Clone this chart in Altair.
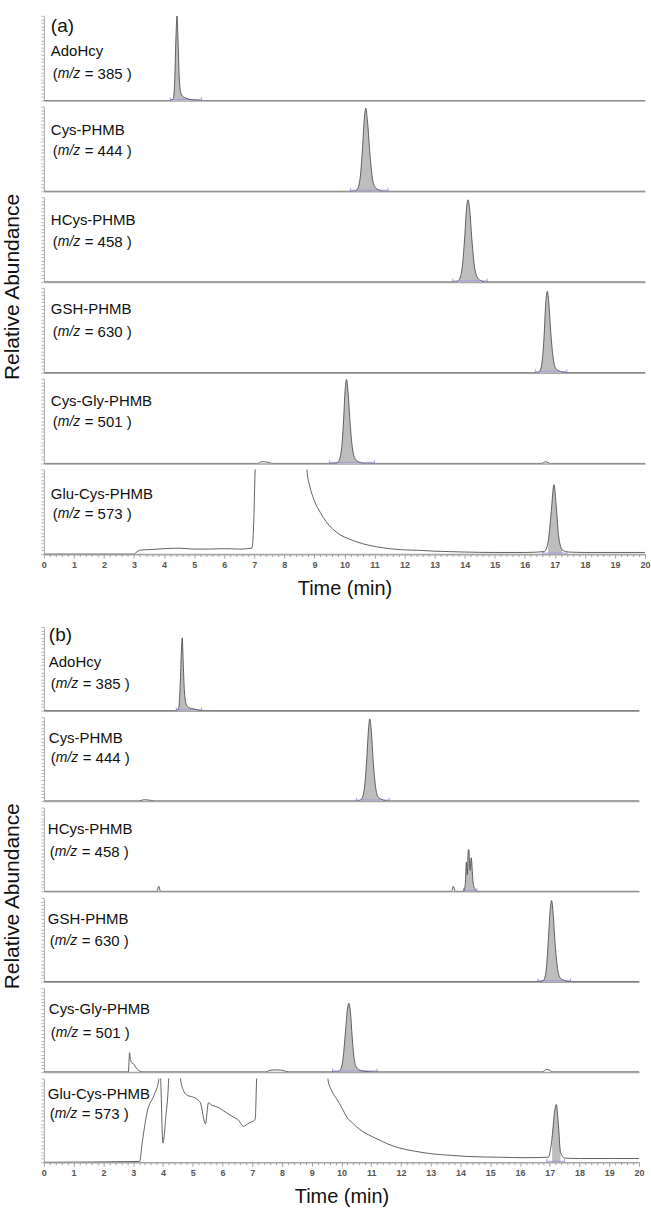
import altair as alt
import pandas as pd

FONT = "Liberation Sans"
LINE_C = "#4f4f4f"
FILL_C = "#bdbdbd"
BASE_C = "#aaa4a0"
AXIS_C = "#a8a8a8"
BLUE_C = "#9a9ae6"

NAMES = ["AdoHcy", "Cys-PHMB", "HCys-PHMB", "GSH-PHMB", "Cys-Gly-PHMB", "Glu-Cys-PHMB"]
MZ = ["385", "444", "458", "630", "501", "573"]
PANEL_TAGS = ["(a)", "(b)"]

XTICKS = [round(i * 0.2, 1) for i in range(101)]
YTICKS = [round(i / 24, 4) for i in range(25)]

# ---------------- panel (a) ----------------
A_ADOHCY_T = [0, 4.20, 4.30, 4.35, 4.39, 4.43, 4.46, 4.50, 4.55, 4.62, 4.72, 4.90, 5.25, 20]
A_ADOHCY_V = [0, 0, 0.02, 0.20, 0.70, 1.00, 0.75, 0.30, 0.10, 0.05, 0.03, 0.01, 0, 0]

A_CYS_T = [0, 10.30, 10.42, 10.52, 10.60, 10.66, 10.71, 10.76, 10.84, 10.92, 11.00, 11.12, 11.30, 20]
A_CYS_V = [0, 0, 0.02, 0.15, 0.50, 0.85, 0.98, 0.85, 0.48, 0.18, 0.06, 0.02, 0, 0]

A_HCYS_T = [0, 13.70, 13.82, 13.92, 14.00, 14.06, 14.11, 14.16, 14.24, 14.32, 14.40, 14.52, 14.70, 20]
A_HCYS_V = [0, 0, 0.03, 0.18, 0.52, 0.86, 0.97, 0.88, 0.50, 0.20, 0.07, 0.02, 0, 0]

A_GSH_T = [0, 16.40, 16.50, 16.58, 16.65, 16.70, 16.75, 16.80, 16.87, 16.95, 17.03, 17.15, 17.35, 20]
A_GSH_V = [0, 0, 0.02, 0.14, 0.48, 0.84, 0.96, 0.82, 0.45, 0.16, 0.05, 0.02, 0, 0]

A_CYSGLY_T = [0, 7.10, 7.25, 7.45, 7.60, 9.70, 9.80, 9.90, 9.97, 10.02, 10.07, 10.12, 10.19,
              10.27, 10.35, 10.47, 10.65, 16.55, 16.70, 16.85, 20]
A_CYSGLY_V = [0, 0, 0.02, 0.015, 0, 0, 0.02, 0.16, 0.50, 0.85, 0.99, 0.84, 0.46,
              0.17, 0.06, 0.02, 0, 0, 0.02, 0, 0]

A_GLUCYS_T = [0, 3.00, 3.10, 3.25, 3.6, 4.0, 4.5, 5.0, 5.5, 6.0, 6.5, 6.92, 6.98, 7.03, 7.10,
              8.68, 8.75, 8.85, 9.0, 9.2, 9.4, 9.6, 9.85, 10.15, 10.45, 10.75, 11.1, 11.5, 12.0,
              12.5, 13.0, 13.5, 14.0, 15.0, 16.0, 16.65, 16.78, 16.88, 16.97, 17.05, 17.13, 17.25,
              17.45, 18.0, 19.0, 20.0]
A_GLUCYS_V = [0, 0, 0.03, 0.05, 0.055, 0.065, 0.07, 0.06, 0.06, 0.065, 0.06, 0.07, 0.35, 1.0, 1.4,
              1.4, 1.0, 0.80, 0.63, 0.49, 0.38, 0.30, 0.23, 0.18, 0.14, 0.11, 0.085, 0.065, 0.05,
              0.045, 0.035, 0.03, 0.025, 0.02, 0.02, 0.03, 0.15, 0.50, 0.82, 0.55, 0.20, 0.05,
              0.025, 0.02, 0.02, 0.02]

# ---------------- panel (b) ----------------
B_ADOHCY_T = [0, 4.45, 4.53, 4.58, 4.62, 4.65, 4.68, 4.72, 4.78, 4.88, 5.05, 5.30, 20]
B_ADOHCY_V = [0, 0, 0.03, 0.30, 0.70, 0.87, 0.60, 0.25, 0.08, 0.035, 0.02, 0, 0]

B_CYS_T = [0, 3.20, 3.35, 3.55, 3.70, 10.55, 10.67, 10.77, 10.85, 10.91, 10.95, 11.00, 11.07,
           11.15, 11.23, 11.35, 11.55, 20]
B_CYS_V = [0, 0, 0.015, 0.01, 0, 0, 0.02, 0.15, 0.50, 0.86, 0.98, 0.85, 0.46,
           0.16, 0.05, 0.02, 0, 0]

B_HCYS_T = [0, 3.80, 3.86, 3.92, 13.70, 13.76, 13.82, 14.10, 14.16, 14.20, 14.23, 14.26, 14.28,
            14.32, 14.36, 14.42, 14.48, 14.56, 20]
B_HCYS_V = [0, 0, 0.06, 0, 0, 0.06, 0, 0, 0.08, 0.35, 0.20, 0.48, 0.50,
            0.25, 0.40, 0.12, 0.03, 0, 0]

B_GSH_T = [0, 16.70, 16.80, 16.88, 16.95, 17.01, 17.06, 17.11, 17.18, 17.26, 17.34, 17.45, 17.65, 20]
B_GSH_V = [0, 0, 0.02, 0.14, 0.48, 0.84, 0.97, 0.83, 0.45, 0.16, 0.05, 0.02, 0, 0]

B_CYSGLY_T = [0, 2.84, 2.88, 2.91, 2.96, 3.03, 3.10, 3.20, 3.30, 7.45, 7.60, 7.80, 8.00, 8.25,
              9.85, 9.95, 10.05, 10.14, 10.20, 10.25, 10.30, 10.36, 10.43, 10.50, 10.60, 10.75,
              11.10, 16.75, 16.88, 17.00, 17.10, 20]
B_CYSGLY_V = [0, 0, 0.23, 0.15, 0.11, 0.09, 0.05, 0.015, 0, 0, 0.02, 0.025, 0.02, 0,
              0, 0.02, 0.15, 0.50, 0.75, 0.82, 0.72, 0.42, 0.15, 0.06, 0.025, 0.01,
              0, 0, 0.03, 0.02, 0, 0]

B_GLUCYS_T = [0, 3.22, 3.30, 3.47, 3.70, 3.86, 3.89, 3.93, 4.00, 4.10, 4.19, 4.22, 4.55, 4.59,
              4.70, 4.82, 5.00, 5.16, 5.26, 5.43, 5.53, 5.65, 5.83, 6.10, 6.37, 6.55, 6.70, 6.90,
              7.10, 7.15, 7.20, 9.50, 9.55, 9.68, 9.85, 10.0, 10.18, 10.40, 10.62, 10.90, 11.19,
              11.55, 11.96, 12.5, 13.07, 13.6, 14.2, 15.31, 16.2, 16.95, 17.08, 17.16, 17.22,
              17.29, 17.36, 17.50, 18.0, 19.0, 20.0]
B_GLUCYS_V = [0, 0.01, 0.22, 0.60, 0.80, 0.98, 1.3, 0.95, 0.23, 0.55, 0.98, 1.3, 1.3, 1.0,
              0.85, 0.80, 0.78, 0.75, 0.71, 0.46, 0.71, 0.68, 0.66, 0.60, 0.54, 0.50, 0.43, 0.47,
              0.51, 1.0, 1.4, 1.4, 0.98, 0.85, 0.75, 0.66, 0.54, 0.46, 0.39, 0.33, 0.28,
              0.22, 0.17, 0.13, 0.10, 0.085, 0.07, 0.06, 0.055, 0.06, 0.30, 0.60, 0.69,
              0.45, 0.12, 0.05, 0.045, 0.045, 0.045]

A_TRACES = [(A_ADOHCY_T, A_ADOHCY_V), (A_CYS_T, A_CYS_V), (A_HCYS_T, A_HCYS_V),
            (A_GSH_T, A_GSH_V), (A_CYSGLY_T, A_CYSGLY_V), (A_GLUCYS_T, A_GLUCYS_V)]
B_TRACES = [(B_ADOHCY_T, B_ADOHCY_V), (B_CYS_T, B_CYS_V), (B_HCYS_T, B_HCYS_V),
            (B_GSH_T, B_GSH_V), (B_CYSGLY_T, B_CYSGLY_V), (B_GLUCYS_T, B_GLUCYS_V)]

# shaded (integrated) peak windows and integration baselines, in minutes
A_FILL = [(4.28, 4.95), (10.38, 11.2), (13.78, 14.6), (16.48, 17.25), (9.75, 10.55), (16.7, 17.35)]
A_INTEG = [(4.20, 5.25), (10.2, 11.45), (13.6, 14.75), (16.35, 17.4), (9.5, 11.0), (16.6, 17.4)]
B_FILL = [(4.5, 5.1), (10.62, 11.45), (14.1, 14.5), (16.78, 17.55), (9.9, 10.75), (16.98, 17.45)]
B_INTEG = [(4.45, 5.3), (10.5, 11.6), (14.1, 14.55), (16.6, 17.7), (9.7, 11.2), (16.9, 17.5)]

# label layout (pixels inside each strip)
A_NAME_X = [7, 7, 7, 7, 7, 7]
A_NAME_Y = [35, 24, 23, 21, 22, 25]
A_MZ_Y = [58, 45, 45, 44, 43, 45]
B_NAME_X = [5, 5, 4, 4, 5, 4]
B_NAME_Y = [35, 21, 22, 21, 21, 16]
B_MZ_Y = [57, 41, 45, 43, 45, 36]

ISMAJOR = "abs(datum.value - round(datum.value)) < 0.01"


def text_layer(s, x, y, size, style="normal"):
    return alt.Chart(pd.DataFrame({"s": [s]})).mark_text(
        align="left", baseline="middle", fontSize=size, font=FONT, fontStyle=style, color="#111"
    ).encode(text="s:N", x=alt.value(x), y=alt.value(y))


def strip(trace, fill, integ, name, mz, nx, ny, my, W, H, bottom, tag=None, ylabel=False):
    t, v = trace
    df = pd.DataFrame({"t": t, "v": v})
    xs = alt.Scale(domain=[0, 20], nice=False, zero=False)
    ys = alt.Scale(domain=[0, 1], nice=False, zero=False)
    if bottom:
        xaxis = alt.Axis(
            values=XTICKS, title="Time (min)", titleFontSize=20, titleFontWeight="normal",
            titleColor="#111", titlePadding=9, labelExpr=f"{ISMAJOR} ? '' + round(datum.value) : ''",
            labelFontSize=9, labelColor="#555", labelFontWeight="bold", labelPadding=2,
            labelOverlap=False, labelFlush=False, tickColor="#8a8a8a", tickWidth=0.8,
            tickSize={"condition": {"test": ISMAJOR, "value": 4}, "value": 2.5},
            domainColor=BASE_C, domainWidth=1.6, grid=False,
        )
    else:
        xaxis = alt.Axis(labels=False, ticks=False, title=None, domainColor=BASE_C,
                         domainWidth=1.6, grid=False)
    yaxis = alt.Axis(values=YTICKS, labels=False, title=None, tickSize=3, tickWidth=0.7,
                     tickColor="#9a9a9a", domainColor=AXIS_C, domainWidth=1, grid=False)
    X = alt.X("t:Q", scale=xs, axis=xaxis)
    Y = alt.Y("v:Q", scale=ys, axis=yaxis)

    area = alt.Chart(df).transform_filter(
        f"datum.t >= {fill[0]} && datum.t <= {fill[1]}"
    ).mark_area(color=FILL_C, interpolate="monotone", clip=True).encode(x=X, y=Y)
    line = alt.Chart(df).mark_line(
        color=LINE_C, strokeWidth=0.9, interpolate="monotone", clip=True
    ).encode(x=X, y=Y)
    idf = pd.DataFrame({"t0": [integ[0]], "t1": [integ[1]], "y": [0.012]})
    irule = alt.Chart(idf).mark_rule(color=BLUE_C, strokeWidth=0.9).encode(
        x=alt.X("t0:Q", scale=xs, axis=xaxis), x2="t1:Q", y=alt.Y("y:Q", scale=ys, axis=yaxis))
    edf = pd.DataFrame({"t": [integ[0], integ[1]], "y0": [0, 0], "y1": [0.04, 0.04]})
    iends = alt.Chart(edf).mark_rule(color=BLUE_C, strokeWidth=0.9).encode(
        x=alt.X("t:Q", scale=xs, axis=xaxis), y=alt.Y("y0:Q", scale=ys, axis=yaxis), y2="y1:Q")

    layers = [area, irule, iends, line]
    layers.append(text_layer(name, nx, ny, 15))
    layers.append(text_layer("(", nx + 2, my, 15))
    layers.append(text_layer("m/z", nx + 7, my, 14, "italic"))
    layers.append(text_layer(f"= {mz} )", nx + 34, my, 15))
    if tag:
        layers.append(text_layer(tag, nx, 10 if tag == "(a)" else 8, 19))
    if ylabel:
        layers.append(
            alt.Chart(pd.DataFrame({"s": ["Relative Abundance"]})).mark_text(
                align="center", baseline="middle", angle=270, fontSize=21, font=FONT, color="#111"
            ).encode(text="s:N", x=alt.value(-31), y=alt.value(H + 5))
        )
    return alt.layer(*layers).properties(width=W, height=H)


def panel(traces, fills, integs, nxs, nys, mys, W, H, spacing, tag):
    charts = []
    for i in range(6):
        charts.append(strip(traces[i], fills[i], integs[i], NAMES[i], MZ[i], nxs[i], nys[i], mys[i],
                            W, H, bottom=(i == 5), tag=tag if i == 0 else None, ylabel=(i == 2)))
    return alt.vconcat(*charts, spacing=spacing, bounds="flush")


panel_a = panel(A_TRACES, A_FILL, A_INTEG, A_NAME_X, A_NAME_Y, A_MZ_Y, 603, 85, 6, PANEL_TAGS[0])
panel_b = panel(B_TRACES, B_FILL, B_INTEG, B_NAME_X, B_NAME_Y, B_MZ_Y, 597, 84, 6.6, PANEL_TAGS[1])

chart = alt.vconcat(panel_a, panel_b, spacing=28).properties(
    padding={"left": 1, "top": 13, "right": 0, "bottom": 0},
    background="white",
).configure(
    font=FONT, view=alt.ViewConfig(stroke="transparent", strokeWidth=0)
)

chart.save("out.html", embed_options={"renderer": "svg", "actions": False})
